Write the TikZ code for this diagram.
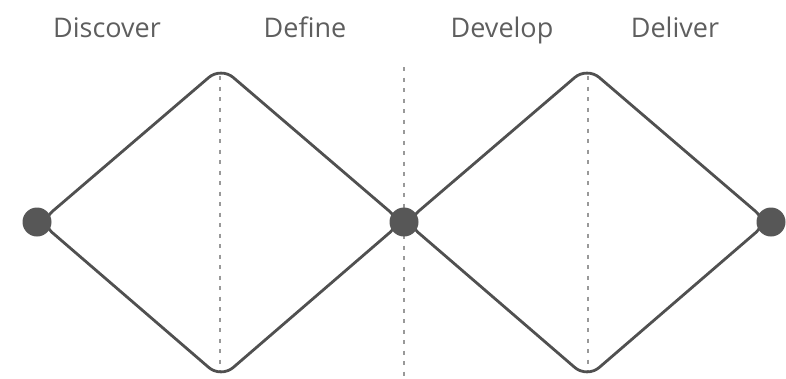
\documentclass[tikz,border=0pt]{standalone}
\usepackage{fontspec}
\setmainfont{Open Sans}
\definecolor{linegray}{HTML}{505050}
\definecolor{dotgray}{HTML}{575757}
\definecolor{dashgray}{HTML}{999999}
\definecolor{textgray}{HTML}{5E5E5E}
\begin{document}
\begin{tikzpicture}[x=1pt,y=-1pt,
  diamondline/.style={draw=linegray,line width=2.8pt,rounded corners=16pt,line join=round},
  divider/.style={draw=dashgray,line width=1.8pt,dash pattern=on 4pt off 6.5pt},
  enddot/.style={circle,fill=dotgray,minimum size=29pt,inner sep=0pt},
  phase/.style={text=textgray,font=\fontsize{27}{30}\selectfont,anchor=base}]
\useasboundingbox (0,0) rectangle (786,378);
% dividers
\coordinate (d1t) at (220,76);  \coordinate (d1b) at (220,372);
\coordinate (d2t) at (404,67);  \coordinate (d2b) at (404,378);
\coordinate (d3t) at (588,76);  \coordinate (d3b) at (588,372);
\draw[divider] (d1t) -- (d1b);
\draw[divider] (d2t) -- (d2b);
\draw[divider] (d3t) -- (d3b);
% diamonds
\coordinate (aL) at (40,222);  \coordinate (aT) at (221,67);
\coordinate (aR) at (402,222); \coordinate (aB) at (221,378);
\coordinate (bL) at (406,222); \coordinate (bT) at (587,67);
\coordinate (bR) at (768,222); \coordinate (bB) at (587,378);
\draw[diamondline] (aL) -- (aT) -- (aR) -- (aB) -- cycle;
\draw[diamondline] (bL) -- (bT) -- (bR) -- (bB) -- cycle;
% dots
\node[enddot] (p1) at (37,222) {};
\node[enddot] (p2) at (404,222) {};
\node[enddot] (p3) at (771,222) {};
% labels
\node[phase] (t1) at (107,37) {Discover};
\node[phase] (t2) at (305,37) {Define};
\node[phase] (t3) at (502,37) {Develop};
\node[phase] (t4) at (675,37) {Deliver};
\end{tikzpicture}
\end{document}
